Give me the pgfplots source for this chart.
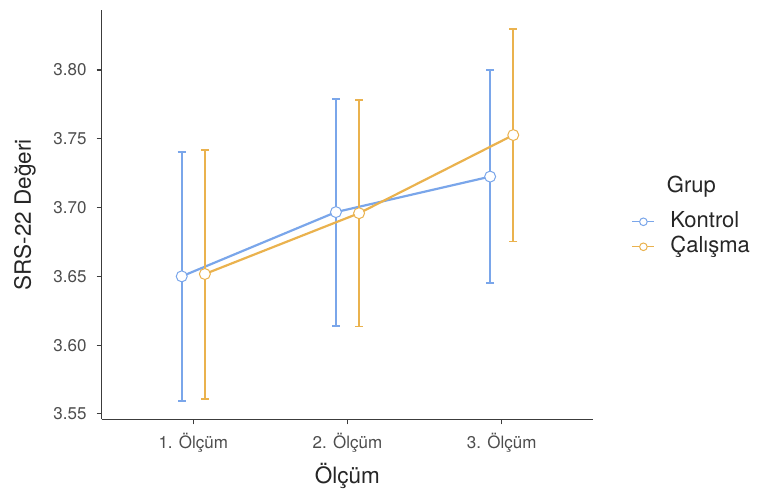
\documentclass[border=0pt]{standalone}
\usepackage{fontspec}
\setmainfont{TeX Gyre Heros}
\usepackage{pgfplots}
\usepackage{pgfplotstable}
\pgfplotsset{compat=1.18}
\definecolor{kblue}{RGB}{122,166,234}
\definecolor{corange}{RGB}{234,178,78}
\definecolor{tickgrey}{RGB}{77,77,77}
\definecolor{axgrey}{RGB}{60,60,60}

\pgfplotstableread{
x      y       ep      em
0.925  3.6500  0.0903  0.0906
1.925  3.6967  0.0823  0.0825
2.925  3.7225  0.0775  0.0773
}\kontrol
\pgfplotstableread{
x      y       ep      em
1.075  3.6517  0.0902  0.0906
2.075  3.6959  0.0824  0.0824
3.075  3.7527  0.0771  0.0774
}\calisma

\begin{document}
\begin{tikzpicture}[x=1pt,y=1pt]
\useasboundingbox (-101.7,-75.7) rectangle (656.3,419.3);
\begin{axis}[
  scale only axis, width=491.3pt, height=409.3pt,
  at={(0,0)}, anchor=south west,
  xmin=0.406, xmax=3.592, ymin=3.5461, ymax=3.8436,
  axis x line*=bottom, axis y line*=left,
  axis line style={-, draw=axgrey, line width=1.1pt},
  xtick={1,2,3}, xticklabels={1. Ölçüm,2. Ölçüm,3. Ölçüm},
  ytick={3.55,3.60,3.65,3.70,3.75,3.80},
  yticklabels={3.55,3.60,3.65,3.70,3.75,3.80},
  tick align=outside, major tick length=5pt,
  tick style={draw=axgrey, line width=1.1pt},
  ticklabel style={font=\fontsize{17}{20}\selectfont, text=tickgrey},
  xticklabel style={anchor=center, yshift=-18pt},
  yticklabel style={anchor=east, inner sep=0pt, xshift=-10pt},
  every axis x label/.style={at={(axis description cs:0.5,0)}, yshift=-57pt, anchor=center},
  every axis y label/.style={at={(axis description cs:0,0.5)}, xshift=-76.7pt, rotate=90, anchor=center},
  xlabel={Ölçüm}, ylabel={SRS-22 Değeri},
  label style={font=\fontsize{22.5}{26}\selectfont, text=black!85},
  legend style={draw=none, fill=none, at={(axis description cs:1.0788,0.452)}, anchor=west,
    inner sep=0pt, outer sep=0pt, row sep=4pt,
    font=\fontsize{22}{26}\selectfont, text=black!85,
    cells={anchor=west},
    nodes={inner xsep=0pt, inner ysep=0pt, text height=16pt, text depth=5pt},
    /tikz/every odd column/.append style={column sep=15.3pt}},
  legend image code/.code={\draw[mark repeat=2,mark phase=2,#1,line width=1.4pt,mark size=3.8pt] plot coordinates {(0pt,0pt) (11pt,0pt) (22pt,0pt)};},
  clip=false,
]
\addplot[color=kblue, line width=2.2pt, mark=*, mark size=5.5pt,
  mark options={fill=white, draw=kblue, line width=1pt},
  error bars/.cd, y dir=both, y explicit,
  error bar style={line width=1.8pt, color=kblue},
  error mark options={rotate=90, line width=1.8pt, mark size=4pt, color=kblue}]
  table[x=x, y=y, y error plus=ep, y error minus=em] {\kontrol};
\addlegendentry{Kontrol}
\addplot[color=corange, line width=2.2pt, mark=*, mark size=5.5pt,
  mark options={fill=white, draw=corange, line width=1pt},
  error bars/.cd, y dir=both, y explicit,
  error bar style={line width=1.8pt, color=corange},
  error mark options={rotate=90, line width=1.8pt, mark size=4pt, color=corange}]
  table[x=x, y=y, y error plus=ep, y error minus=em] {\calisma};
\addlegendentry{Çalışma}
\node[anchor=west, inner sep=0pt, font=\fontsize{22}{26}\selectfont, text=black!85]
  at (axis description cs:1.150,0.5683) {Grup};
\end{axis}
\end{tikzpicture}
\end{document}
